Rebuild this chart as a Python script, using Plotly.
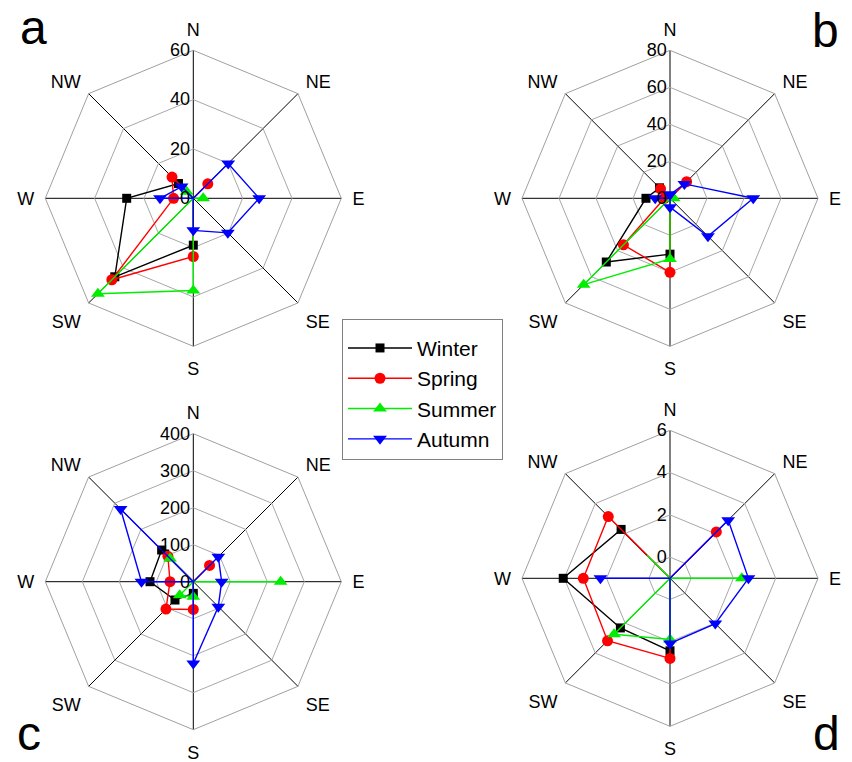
import plotly.graph_objects as go

W, H = 852, 762
directions = ["N", "NE", "E", "SE", "S", "SW", "W", "NW"]
seasons = ["Winter", "Spring", "Summer", "Autumn"]

# panel a
a_winter = [0, 0, 0, 0, 19, 45, 27, 8.5]
a_spring = [0, 8.3, 0, 0, 23.6, 46.7, 8, 12.2]
a_summer = [0, 0, 4, 0, 37.4, 54.7, 0, 3.8]
a_autumn = [0, 20, 26.7, 19.8, 13, 0, 13.5, 6.7]
# panel b
b_winter = [0, 0, 0, 0, 30.2, 48.7, 13, 8]
b_spring = [0, 12.7, 0, 0, 40, 35.6, 3, 7.2]
b_summer = [0, 0, 2, 0, 32.8, 66, 0, 0]
b_autumn = [2, 11, 45, 29, 4.8, 0, 8, 0]
# panel c
c_winter = [0, 0, 0, 0, 31.5, 70, 117, 121]
c_spring = [0, 62, 0, 0, 75, 104.5, 63, 97]
c_summer = [0, 0, 236, 0, 40.5, 52, 0, 89]
c_autumn = [0, 95.5, 76.6, 95.5, 221, 0, 140, 278]
# panel d (centre of the chart is -1)
d_winter = [-1, -1, -1, -1, 2.43, 2.32, 4.05, 2.27]
d_spring = [-1, 2.1, -1, -1, 2.79, 3.18, 3.1, 3.13]
d_summer = [-1, -1, 2.4, -1, 1.89, 2.74, -1, 0.54]
d_autumn = [-1, 2.89, 2.71, 2.03, 2.08, -1, 2.29, -1]

panels = {
    "a": [a_winter, a_spring, a_summer, a_autumn],
    "b": [b_winter, b_spring, b_summer, b_autumn],
    "c": [c_winter, c_spring, c_summer, c_autumn],
    "d": [d_winter, d_spring, d_summer, d_autumn],
}
radial_ranges = {"a": [0, 60], "b": [0, 80], "c": [0, 400], "d": [-1, 6]}
radial_ticks = {"a": [0, 20, 40, 60], "b": [0, 20, 40, 60, 80],
                "c": [0, 100, 200, 300, 400], "d": [0, 2, 4, 6]}

colors = ["#000000", "#ff0000", "#00ee00", "#0000ff"]
symbols = ["square", "circle", "triangle-up", "triangle-down"]
msizes = [9, 11, 12, 12]

centers = {"a": (193.3, 198.3), "b": (670, 198.3), "c": (193.3, 581.7), "d": (670, 578.3)}
R = 148

fig = go.Figure()
FONT = "Liberation Sans, Arial, sans-serif"

for i, key in enumerate(["a", "b", "c", "d"]):
    pname = "polar" if i == 0 else f"polar{i+1}"
    for s in range(4):
        vals = panels[key][s]
        fig.add_trace(go.Scatterpolar(
            r=vals + [vals[0]],
            theta=directions + [directions[0]],
            mode="lines+markers",
            name=seasons[s],
            line=dict(color=colors[s], width=1.4),
            marker=dict(symbol=symbols[s], size=msizes[s], color=colors[s]),
            subplot=pname,
            showlegend=(i == 0),
            cliponaxis=False,
        ))
    cx, cy = centers[key]
    fig.update_layout(**{pname: dict(
        domain=dict(x=[(cx - R) / W, (cx + R) / W], y=[1 - (cy + R) / H, 1 - (cy - R) / H]),
        gridshape="linear",
        bgcolor="white",
        angularaxis=dict(
            type="category", categoryarray=directions, rotation=90, direction="clockwise",
            showgrid=True, gridcolor="#000000", gridwidth=1.2,
            showline=True, linecolor="#a0a0a0", linewidth=1,
            ticks="outside", ticklen=7, tickcolor="rgba(0,0,0,0)",
            tickfont=dict(size=18, color="black", family=FONT),
        ),
        radialaxis=dict(
            range=radial_ranges[key], tickvals=radial_ticks[key], angle=90,
            side="counterclockwise", tickangle=90,
            showgrid=True, gridcolor="#a8a8a8", gridwidth=1,
            showline=False, ticks="",
            tickfont=dict(size=18, color="black", family=FONT),
        ),
    )})

letters = [("a", 18, 28, "middle"), ("b", 810, 31, "middle"), ("c", 15, 762, "bottom"), ("d", 811, 762, "bottom")]
for txt, x, y, ya in letters:
    fig.add_annotation(text=txt, x=x / W, y=1 - y / H, xref="paper", yref="paper",
                       xanchor="left", yanchor=ya, showarrow=False,
                       font=dict(size=48, color="black", family=FONT))

fig.update_layout(
    width=W, height=H, margin=dict(l=0, r=0, t=0, b=0),
    paper_bgcolor="white", plot_bgcolor="white",
    font=dict(family=FONT, color="black"),
    legend=dict(x=342 / W, y=1 - 319 / H, xanchor="left", yanchor="top",
                bordercolor="#808080", borderwidth=1, bgcolor="white",
                font=dict(size=21, family=FONT, color="black"),
                title=dict(text=" ", font=dict(size=6)),
                itemwidth=64, tracegroupgap=0),
)
fig.write_html("out.html")
